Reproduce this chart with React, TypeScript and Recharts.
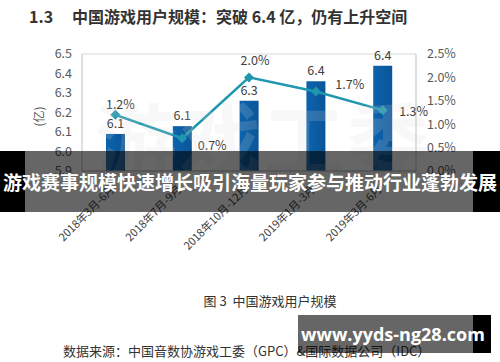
import React from 'react';
import { ComposedChart, Bar, Line, XAxis, YAxis, CartesianGrid, LabelList } from 'recharts';

const periods = ['2018年3月-6月', '2018年7月-9月', '2018年10月-12月', '2019年1月-3月', '2019年3月-6月'];
const users = [6.09, 6.13, 6.26, 6.36, 6.44]; // 亿
const growth = [1.2, 0.7, 2.0, 1.7, 1.3]; // %
const leftTicks = [5.9, 6.0, 6.1, 6.2, 6.3, 6.4, 6.5];
const rightTicks = [0, 0.5, 1.0, 1.5, 2.0, 2.5];

// where each growth label sits relative to its point
const growthLabelShift = [
  [5, -11],
  [30, 6],
  [6, -18],
  [34, -8],
  [31, 0],
];

const FONT = '"Noto Sans CJK SC", "Noto Sans", sans-serif';
const TEAL = '#1f97ae';

const data = periods.map((p, i) => ({ period: p, users: users[i], growth: growth[i] }));

const Diamond = (props: any) => {
  const { cx, cy } = props;
  if (cx == null || cy == null) return null;
  const r = 5;
  return (
    <polygon
      points={`${cx},${cy - r} ${cx + r},${cy} ${cx},${cy + r} ${cx - r},${cy}`}
      fill={TEAL}
    />
  );
};

const GrowthLabel = (props: any) => {
  const { x, y, value, index } = props;
  const [dx, dy] = growthLabelShift[index] || [0, -10];
  return (
    <text x={x + dx} y={y + dy} textAnchor="middle" dominantBaseline="central" fontSize={12.5} fill="#404040" fontFamily={FONT}>
      {value.toFixed(1)}%
    </text>
  );
};

const PeriodTick = (props: any) => {
  const { x, y, payload } = props;
  return (
    <text
      transform={`translate(${x},${y + 11}) rotate(-45)`}
      textAnchor="end"
      fontSize={11}
      fill="#404040"
      fontFamily={FONT}
    >
      {payload.value}
    </text>
  );
};

export default function App() {
  return (
    <div style={{ position: 'absolute', left: 0, top: 0, width: 500, height: 362, background: '#fff', overflow: 'hidden', fontFamily: FONT }}>
      <div style={{ position: 'absolute', left: 29, top: 5, fontSize: 16, fontWeight: 700, color: '#333', whiteSpace: 'nowrap', lineHeight: '22px' }}>
        <span>1.3</span>
        <span style={{ position: 'absolute', left: 43 }}>中国游戏用户规模：突破 6.4 亿，仍有上升空间</span>
      </div>

      <div style={{ position: 'absolute', left: 0, top: 0 }}>
        <ComposedChart width={500} height={362} data={data} margin={{ top: 54, right: 0, left: 0, bottom: 131 }} barSize={19}>
          <defs>
            <linearGradient id="barFill" x1="0" y1="0" x2="1" y2="0">
              <stop offset="0%" stopColor="#0d63ad" />
              <stop offset="100%" stopColor="#0a5599" />
            </linearGradient>
          </defs>
          <CartesianGrid vertical={false} stroke="#d9d9d9" />
          <XAxis
            dataKey="period"
            interval={0}
            height={60}
            stroke="#bfbfbf"
            tickLine={false}
            tick={<PeriodTick />}
          />
          <YAxis
            yAxisId="left"
            domain={[5.9, 6.5]}
            ticks={leftTicks}
            interval={0}
            width={82}
            stroke="#bfbfbf"
            tickLine={false}
            tickMargin={4}
            tickFormatter={(v: number) => v.toFixed(1)}
            tick={{ fontSize: 12.5, fill: '#595959', fontFamily: FONT }}
            label={{ value: '(亿)', angle: -90, position: 'insideLeft', offset: 40, dy: 14, style: { fontSize: 12, fill: '#595959', fontFamily: FONT } }}
          />
          <YAxis
            yAxisId="right"
            orientation="right"
            domain={[0, 2.5]}
            ticks={rightTicks}
            interval={0}
            width={84}
            stroke="#bfbfbf"
            tickLine={false}
            tickMargin={5}
            tickFormatter={(v: number) => v.toFixed(1) + '%'}
            tick={{ fontSize: 12.5, fill: '#595959', fontFamily: FONT }}
          />
          <Bar yAxisId="left" dataKey="users" fill="url(#barFill)" isAnimationActive={false}>
            <LabelList
              dataKey="users"
              position="top"
              offset={6}
              formatter={(v: any) => Number(v).toFixed(1)}
              style={{ fontSize: 12.5, fill: '#404040', fontFamily: FONT }}
            />
          </Bar>
          <Line
            yAxisId="right"
            dataKey="growth"
            stroke={TEAL}
            strokeWidth={2.5}
            dot={<Diamond />}
            activeDot={false}
            isAnimationActive={false}
          >
            <LabelList dataKey="growth" content={<GrowthLabel />} />
          </Line>
        </ComposedChart>
      </div>

      {/* faint watermark over plot */}
      <div style={{ position: 'absolute', left: 95, top: 92, fontSize: 82, fontWeight: 700, color: 'rgba(215,215,215,0.18)', whiteSpace: 'nowrap', letterSpacing: 2, lineHeight: '90px', pointerEvents: 'none' }}>
        游戏工委
      </div>

      {/* caption and source */}
      <div style={{ position: 'absolute', left: 0, width: 540, top: 292, textAlign: 'center', fontSize: 13, color: '#333', lineHeight: '18px' }}>
        图 3&nbsp;&nbsp;中国游戏用户规模
      </div>
      <div style={{ position: 'absolute', left: 63, top: 342, fontSize: 13, color: '#333', whiteSpace: 'nowrap', lineHeight: '18px' }}>
        数据来源：中国音数协游戏工委（GPC）&国际数据公司（IDC）
      </div>

      {/* banner overlay */}
      <div style={{ position: 'absolute', left: 0, top: 151, width: 25, height: 61, background: '#000' }} />
      <div style={{ position: 'absolute', left: 473, top: 151, width: 27, height: 61, background: '#000' }} />
      <div style={{ position: 'absolute', left: 25, top: 151, width: 448, height: 61, background: 'rgba(0,0,0,0.6)' }} />
      <div style={{ position: 'absolute', left: 0, top: 151, width: 500, height: 61, lineHeight: '61px', textAlign: 'center', color: '#fff', fontSize: 19, fontWeight: 700, whiteSpace: 'nowrap' }}>
        游戏赛事规模快速增长吸引海量玩家参与推动行业蓬勃发展
      </div>

      {/* site stamp */}
      <div style={{ position: 'absolute', left: 298, top: 315, width: 175, height: 38, background: 'rgba(0,0,0,0.6)' }} />
      <div style={{ position: 'absolute', left: 473, top: 315, width: 18, height: 38, background: '#000' }} />
      <div style={{ position: 'absolute', left: 298, top: 315, width: 190, height: 38, lineHeight: '38px', textAlign: 'center', color: '#fff', fontSize: 18, fontWeight: 700, whiteSpace: 'nowrap', fontFamily: '"Open Sans", "Noto Sans", sans-serif' }}>
        www.yyds-ng28.com
      </div>
    </div>
  );
}
